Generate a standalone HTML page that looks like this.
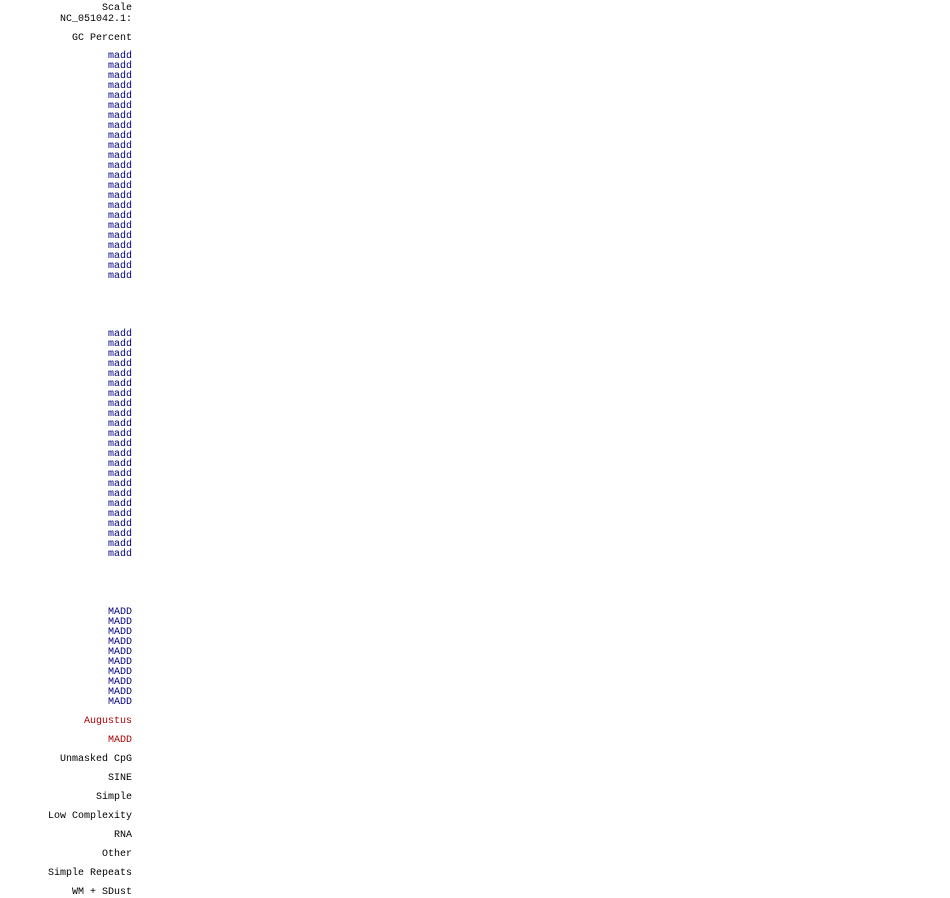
<!DOCTYPE html>
<html><head><style>
body{margin:0;width:950px;height:897px;background:#fff;position:relative;overflow:hidden}
div{position:absolute;right:818px;font-family:"Liberation Mono",monospace;font-size:10px;line-height:10px;white-space:pre;color:#000;text-align:right}
.b{color:#000080}.r{color:#aa0000}
</style></head><body>
<script>
var L=[["Scale",7,""],["NC_051042.1:",18,""],["GC Percent",37,""]];
for(var i=0;i<23;i++)L.push(["madd",55+10*i,"b"]);
for(var i=0;i<23;i++)L.push(["madd",333+10*i,"b"]);
for(var i=0;i<10;i++)L.push(["MADD",611+10*i,"b"]);
L.push(["Augustus",720,"r"],["MADD",739,"r"],["Unmasked CpG",758,""],["SINE",777,""],["Simple",796,""],["Low Complexity",815,""],["RNA",834,""],["Other",853,""],["Simple Repeats",872,""],["WM + SDust",891,""]);
L.forEach(function(a){var d=document.createElement("div");d.textContent=a[0];d.className=a[2];d.style.top=(a[1]-3)+"px";document.body.appendChild(d);});
</script>
</body></html>
